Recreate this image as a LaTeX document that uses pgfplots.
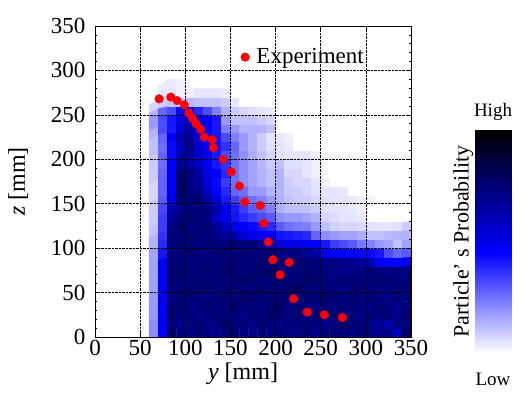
\documentclass[border=0pt]{standalone}
\usepackage{fontspec}
\setmainfont{Liberation Serif}
\usepackage{pgfplots}
\pgfplotsset{compat=1.18}
\pgfplotsset{colormap={prob}{rgb255(0pt)=(255,255,255); rgb255(45pt)=(0,0,255); rgb255(100pt)=(0,0,0)}}
\begin{document}
\begin{tikzpicture}
\useasboundingbox (0,0) rectangle (525pt,394pt);
\begin{axis}[
  at={(95pt,57pt)}, anchor=south west,
  scale only axis, width=316pt, height=311pt,
  xmin=0, xmax=350, ymin=0, ymax=350,
  xtick={0,50,...,350}, ytick={0,50,...,350},
  minor y tick num=4,
  grid=major, major grid style={black, densely dotted, line width=0.6pt},
  axis on top,
  axis line style={line width=0.8pt},
  tick align=inside, major tick length=4pt, minor tick length=2pt,
  tick style={black, line width=0.6pt},
  /pgf/number format/assume math mode=true,
  tick label style={font=\fontsize{23}{25}\selectfont},
  yticklabel style={xshift=-6pt},
  label style={font=\fontsize{24}{26}\selectfont},
  xlabel={\textit{y} [mm]}, ylabel={\textit{z} [mm]},
  xlabel style={xshift=-10pt},
  ylabel style={yshift=16pt},
  point meta min=0, point meta max=1.1,
  legend style={draw=none, fill=none, font=\fontsize{23}{25}\selectfont, at={(axis cs:158,315)}, anchor=west, column sep=5pt},
  legend cell align=left,
]
\addplot[matrix plot*, mesh/cols=29, point meta=explicit, forget plot]
  table[header=false, row sep=\\, x expr={65+10*mod(\coordindex,29)}, y expr={5+10*floor(\coordindex/29)}, meta index=0] {
0.22\\ 0.50\\ 0.88\\ 0.80\\ 0.78\\ 0.82\\ 0.80\\ 0.76\\ 0.80\\ 0.84\\ 0.80\\ 0.78\\ 0.82\\ 0.80\\ 0.84\\ 0.78\\ 0.80\\ 0.82\\ 0.78\\ 0.80\\ 0.84\\ 0.80\\ 0.78\\ 0.82\\ 0.80\\ 0.76\\ 0.80\\ 0.65\\ 0.86\\
0.22\\ 0.50\\ 0.82\\ 0.76\\ 0.80\\ 0.84\\ 0.78\\ 0.80\\ 0.86\\ 0.80\\ 0.82\\ 0.78\\ 0.84\\ 0.80\\ 0.78\\ 0.82\\ 0.80\\ 0.84\\ 0.80\\ 0.78\\ 0.80\\ 0.86\\ 0.82\\ 0.80\\ 0.78\\ 0.74\\ 0.68\\ 0.80\\ 0.80\\
0.20\\ 0.50\\ 0.86\\ 0.80\\ 0.82\\ 0.78\\ 0.80\\ 0.84\\ 0.82\\ 0.80\\ 0.78\\ 0.84\\ 0.80\\ 0.86\\ 0.82\\ 0.80\\ 0.84\\ 0.78\\ 0.82\\ 0.80\\ 0.84\\ 0.82\\ 0.80\\ 0.78\\ 0.84\\ 0.80\\ 0.82\\ 0.78\\ 0.84\\
0.20\\ 0.50\\ 0.84\\ 0.82\\ 0.78\\ 0.80\\ 0.84\\ 0.80\\ 0.82\\ 0.86\\ 0.80\\ 0.82\\ 0.80\\ 0.84\\ 0.86\\ 0.80\\ 0.82\\ 0.80\\ 0.78\\ 0.82\\ 0.80\\ 0.84\\ 0.82\\ 0.80\\ 0.78\\ 0.84\\ 0.80\\ 0.76\\ 0.80\\
0.20\\ 0.50\\ 0.80\\ 0.84\\ 0.82\\ 0.80\\ 0.78\\ 0.82\\ 0.84\\ 0.80\\ 0.86\\ 0.84\\ 0.82\\ 0.80\\ 0.84\\ 0.82\\ 0.80\\ 0.84\\ 0.82\\ 0.86\\ 0.82\\ 0.80\\ 0.84\\ 0.80\\ 0.82\\ 0.80\\ 0.78\\ 0.82\\ 0.80\\
0.18\\ 0.50\\ 0.82\\ 0.80\\ 0.84\\ 0.82\\ 0.86\\ 0.80\\ 0.82\\ 0.84\\ 0.82\\ 0.80\\ 0.86\\ 0.82\\ 0.80\\ 0.84\\ 0.88\\ 0.82\\ 0.80\\ 0.82\\ 0.80\\ 0.78\\ 0.82\\ 0.84\\ 0.80\\ 0.82\\ 0.80\\ 0.84\\ 0.82\\
0.18\\ 0.50\\ 0.84\\ 0.82\\ 0.80\\ 0.84\\ 0.82\\ 0.84\\ 0.80\\ 0.82\\ 0.86\\ 0.84\\ 0.80\\ 0.82\\ 0.84\\ 0.80\\ 0.82\\ 0.86\\ 0.84\\ 0.82\\ 0.80\\ 0.82\\ 0.84\\ 0.80\\ 0.82\\ 0.84\\ 0.82\\ 0.80\\ 0.82\\
0.18\\ 0.50\\ 0.82\\ 0.84\\ 0.82\\ 0.80\\ 0.84\\ 0.82\\ 0.86\\ 0.84\\ 0.80\\ 0.82\\ 0.84\\ 0.86\\ 0.80\\ 0.82\\ 0.80\\ 0.84\\ 0.82\\ 0.80\\ 0.78\\ 0.76\\ 0.78\\ 0.80\\ 0.82\\ 0.80\\ 0.78\\ 0.80\\ 0.78\\
0.18\\ 0.50\\ 0.84\\ 0.82\\ 0.80\\ 0.82\\ 0.84\\ 0.80\\ 0.82\\ 0.84\\ 0.80\\ 0.82\\ 0.84\\ 0.80\\ 0.82\\ 0.80\\ 0.84\\ 0.82\\ 0.80\\ 0.78\\ 0.80\\ 0.78\\ 0.76\\ 0.74\\ 0.68\\ 0.52\\ 0.50\\ 0.50\\ 0.50\\
0.18\\ 0.45\\ 0.82\\ 0.80\\ 0.84\\ 0.82\\ 0.80\\ 0.84\\ 0.82\\ 0.80\\ 0.84\\ 0.82\\ 0.80\\ 0.82\\ 0.80\\ 0.78\\ 0.80\\ 0.76\\ 0.72\\ 0.55\\ 0.50\\ 0.50\\ 0.50\\ 0.48\\ 0.48\\ 0.45\\ 0.35\\ 0.30\\ 0.32\\
0.15\\ 0.42\\ 0.80\\ 0.84\\ 0.82\\ 0.80\\ 0.84\\ 0.82\\ 0.80\\ 0.84\\ 0.80\\ 0.82\\ 0.75\\ 0.65\\ 0.58\\ 0.55\\ 0.55\\ 0.52\\ 0.50\\ 0.45\\ 0.38\\ 0.35\\ 0.32\\ 0.26\\ 0.24\\ 0.20\\ 0.18\\ 0.12\\ 0.18\\
0.15\\ 0.40\\ 0.82\\ 0.80\\ 0.84\\ 0.82\\ 0.80\\ 0.78\\ 0.75\\ 0.70\\ 0.60\\ 0.55\\ 0.52\\ 0.50\\ 0.46\\ 0.45\\ 0.44\\ 0.42\\ 0.30\\ 0.22\\ 0.20\\ 0.18\\ 0.18\\ 0.16\\ 0.12\\ 0.12\\ 0.14\\ 0.15\\ 0.15\\
0.12\\ 0.38\\ 0.80\\ 0.85\\ 0.80\\ 0.82\\ 0.84\\ 0.75\\ 0.65\\ 0.55\\ 0.50\\ 0.48\\ 0.45\\ 0.42\\ 0.32\\ 0.28\\ 0.26\\ 0.25\\ 0.20\\ 0.12\\ 0.09\\ 0.08\\ 0.08\\ 0.07\\ 0.06\\ 0.05\\ 0.05\\ 0.06\\ 0.10\\
0.10\\ 0.38\\ 0.75\\ 0.80\\ 0.85\\ 0.80\\ 0.80\\ 0.62\\ 0.52\\ 0.46\\ 0.42\\ 0.38\\ 0.35\\ 0.32\\ 0.22\\ 0.20\\ 0.20\\ 0.18\\ 0.15\\ 0.08\\ 0.07\\ 0.05\\ 0.05\\ 0.04\\ 0\\ 0\\ 0\\ 0\\ 0\\
0.10\\ 0.36\\ 0.72\\ 0.76\\ 0.80\\ 0.82\\ 0.80\\ 0.70\\ 0.52\\ 0.45\\ 0.38\\ 0.32\\ 0.30\\ 0.25\\ 0.16\\ 0.13\\ 0.12\\ 0.12\\ 0.10\\ 0.06\\ 0.05\\ 0.05\\ 0.04\\ 0.03\\ 0\\ 0\\ 0\\ 0\\ 0\\
0.10\\ 0.32\\ 0.55\\ 0.82\\ 0.80\\ 0.84\\ 0.72\\ 0.58\\ 0.45\\ 0.38\\ 0.32\\ 0.28\\ 0.25\\ 0.20\\ 0.15\\ 0.12\\ 0.10\\ 0.10\\ 0.08\\ 0.06\\ 0.05\\ 0.05\\ 0.04\\ 0.03\\ 0.02\\ 0\\ 0\\ 0\\ 0\\
0.08\\ 0.30\\ 0.52\\ 0.88\\ 0.80\\ 0.78\\ 0.65\\ 0.50\\ 0.42\\ 0.30\\ 0.28\\ 0.20\\ 0.20\\ 0.15\\ 0.15\\ 0.10\\ 0.10\\ 0.08\\ 0.06\\ 0.05\\ 0.05\\ 0.04\\ 0\\ 0\\ 0\\ 0\\ 0\\ 0\\ 0\\
0.08\\ 0.30\\ 0.50\\ 0.86\\ 0.78\\ 0.75\\ 0.58\\ 0.48\\ 0.38\\ 0.28\\ 0.22\\ 0.18\\ 0.15\\ 0.12\\ 0.15\\ 0.10\\ 0.08\\ 0.08\\ 0.05\\ 0.03\\ 0\\ 0\\ 0\\ 0\\ 0\\ 0\\ 0\\ 0\\ 0\\
0.10\\ 0.30\\ 0.50\\ 0.85\\ 0.80\\ 0.72\\ 0.55\\ 0.50\\ 0.42\\ 0.28\\ 0.22\\ 0.18\\ 0.15\\ 0.12\\ 0.15\\ 0.08\\ 0.08\\ 0.05\\ 0.03\\ 0\\ 0\\ 0\\ 0\\ 0\\ 0\\ 0\\ 0\\ 0\\ 0\\
0.10\\ 0.28\\ 0.50\\ 0.75\\ 0.72\\ 0.65\\ 0.52\\ 0.45\\ 0.40\\ 0.28\\ 0.22\\ 0.18\\ 0.14\\ 0.10\\ 0.12\\ 0.06\\ 0.06\\ 0.05\\ 0.03\\ 0\\ 0\\ 0\\ 0\\ 0\\ 0\\ 0\\ 0\\ 0\\ 0\\
0.10\\ 0.30\\ 0.48\\ 0.70\\ 0.72\\ 0.62\\ 0.55\\ 0.45\\ 0.35\\ 0.28\\ 0.22\\ 0.16\\ 0.12\\ 0.08\\ 0.06\\ 0.05\\ 0.05\\ 0.05\\ 0.03\\ 0\\ 0\\ 0\\ 0\\ 0\\ 0\\ 0\\ 0\\ 0\\ 0\\
0.12\\ 0.28\\ 0.48\\ 0.65\\ 0.78\\ 0.62\\ 0.52\\ 0.46\\ 0.40\\ 0.30\\ 0.20\\ 0.15\\ 0.10\\ 0.06\\ 0.05\\ 0.04\\ 0\\ 0\\ 0\\ 0\\ 0\\ 0\\ 0\\ 0\\ 0\\ 0\\ 0\\ 0\\ 0\\
0.12\\ 0.30\\ 0.50\\ 0.70\\ 0.75\\ 0.60\\ 0.48\\ 0.45\\ 0.35\\ 0.25\\ 0.20\\ 0.15\\ 0.10\\ 0.05\\ 0.04\\ 0.03\\ 0\\ 0\\ 0\\ 0\\ 0\\ 0\\ 0\\ 0\\ 0\\ 0\\ 0\\ 0\\ 0\\
0.15\\ 0.35\\ 0.45\\ 0.60\\ 0.70\\ 0.55\\ 0.50\\ 0.45\\ 0.25\\ 0.20\\ 0.15\\ 0.15\\ 0.15\\ 0.12\\ 0\\ 0\\ 0\\ 0\\ 0\\ 0\\ 0\\ 0\\ 0\\ 0\\ 0\\ 0\\ 0\\ 0\\ 0\\
0.20\\ 0.35\\ 0.45\\ 0.55\\ 0.60\\ 0.55\\ 0.50\\ 0.45\\ 0.20\\ 0.12\\ 0.12\\ 0.12\\ 0.10\\ 0.08\\ 0\\ 0\\ 0\\ 0\\ 0\\ 0\\ 0\\ 0\\ 0\\ 0\\ 0\\ 0\\ 0\\ 0\\ 0\\
0.15\\ 0.30\\ 0.35\\ 0.48\\ 0.50\\ 0.42\\ 0.35\\ 0.25\\ 0.15\\ 0.10\\ 0.08\\ 0.06\\ 0.05\\ 0.04\\ 0\\ 0\\ 0\\ 0\\ 0\\ 0\\ 0\\ 0\\ 0\\ 0\\ 0\\ 0\\ 0\\ 0\\ 0\\
0.08\\ 0.10\\ 0.12\\ 0.12\\ 0.14\\ 0.12\\ 0.12\\ 0.12\\ 0.10\\ 0.05\\ 0\\ 0\\ 0\\ 0\\ 0\\ 0\\ 0\\ 0\\ 0\\ 0\\ 0\\ 0\\ 0\\ 0\\ 0\\ 0\\ 0\\ 0\\ 0\\
0\\ 0.05\\ 0.05\\ 0.03\\ 0.03\\ 0.05\\ 0.05\\ 0.05\\ 0.04\\ 0\\ 0\\ 0\\ 0\\ 0\\ 0\\ 0\\ 0\\ 0\\ 0\\ 0\\ 0\\ 0\\ 0\\ 0\\ 0\\ 0\\ 0\\ 0\\ 0\\
0\\ 0.04\\ 0.04\\ 0.03\\ 0\\ 0\\ 0\\ 0\\ 0\\ 0\\ 0\\ 0\\ 0\\ 0\\ 0\\ 0\\ 0\\ 0\\ 0\\ 0\\ 0\\ 0\\ 0\\ 0\\ 0\\ 0\\ 0\\ 0\\ 0\\
};
\addplot[only marks, mark=*, mark size=4.3pt, color=red] coordinates {
(71,268) (84,270) (91,266) (99,261) (104,252) (108,246) (112,240) (117,234)
(121,225) (130,222) (131,213) (142,200) (151,186) (160,170) (166,152) (183,148)
(187,128) (192,107) (197,87) (215,84) (205,70) (220,43) (235,28) (254,25) (274,22)
};
\addlegendentry{Experiment}
\end{axis}
\begin{axis}[
  at={(475pt,41pt)}, anchor=south west,
  scale only axis, width=36pt, height=223pt,
  xmin=0, xmax=1, ymin=0, ymax=1,
  xtick=\empty, ytick=\empty,
  axis line style={gray!70, line width=0.5pt},
  point meta min=0, point meta max=1,
  title={High}, title style={font=\fontsize{19}{21}\selectfont},
  xlabel={Low}, xlabel style={font=\fontsize{19}{21}\selectfont, yshift=-17pt},
  ylabel={Particle’ s Probability}, ylabel style={font=\fontsize{22}{24}\selectfont, yshift=-2pt},
]
\addplot[surf, shader=interp, mesh/cols=2, point meta=y] coordinates {(0,0) (1,0) (0,1) (1,1)};
\end{axis}
\end{tikzpicture}
\end{document}
